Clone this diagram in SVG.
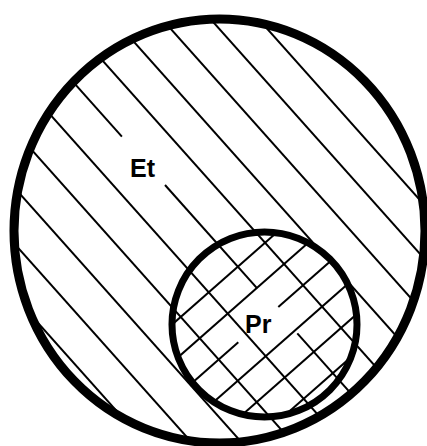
<svg xmlns="http://www.w3.org/2000/svg" width="427" height="446" viewBox="0 0 427 446">
<style>
.h{stroke:#000;stroke-width:2;fill:none}
.c{fill:none;stroke:#000}
.t{font-family:"Liberation Sans",Arial,sans-serif;font-weight:bold;font-size:25px;fill:#000}
</style>
<defs>
<clipPath id="co"><ellipse cx="219.5" cy="231" rx="205.5" ry="212"/></clipPath>
<clipPath id="ci"><circle cx="264.5" cy="324.5" r="92.5"/></clipPath>
</defs>
<rect width="427" height="446" fill="#fff"/>
<g id="hatch-et" clip-path="url(#co)">
<line class="h" x1="-258.9" y1="-10" x2="160.3" y2="460"/>
<line class="h" x1="-211.9" y1="-10" x2="207.3" y2="460"/>
<line class="h" x1="-161.9" y1="-10" x2="257.3" y2="460"/>
<line class="h" x1="-110.9" y1="-10" x2="308.3" y2="460"/>
<line class="h" x1="-60.9" y1="-10" x2="358.3" y2="460"/>
<line class="h" x1="-8.9" y1="-10" x2="121.9" y2="136.7"/>
<line class="h" x1="165" y1="185" x2="257.2" y2="288.3"/>
<line class="h" x1="297.3" y1="333.3" x2="410.3" y2="460"/>
<line class="h" x1="39.6" y1="-10" x2="458.8" y2="460"/>
<line class="h" x1="87.7" y1="-10" x2="506.9" y2="460"/>
<line class="h" x1="136.1" y1="-10" x2="555.3" y2="460"/>
<line class="h" x1="184.6" y1="-10" x2="603.8" y2="460"/>
<line class="h" x1="232.6" y1="-10" x2="651.8" y2="460"/>
</g>
<g id="hatch-pr" clip-path="url(#ci)">
<line class="h" x1="160" y1="335.2" x2="370" y2="150.4"/>
<line class="h" x1="160" y1="373.2" x2="370" y2="188.4"/>
<line class="h" x1="160" y1="411.2" x2="238.3" y2="342.3"/>
<line class="h" x1="278.3" y1="307.1" x2="370" y2="226.4"/>
<line class="h" x1="160" y1="449.2" x2="370" y2="264.4"/>
<line class="h" x1="160" y1="487.2" x2="370" y2="302.4"/>
<line class="h" x1="160" y1="525.2" x2="370" y2="340.4"/>
</g>
<g id="et">
<ellipse class="c" cx="219.5" cy="231" rx="205.5" ry="212" stroke-width="9"/>
<text class="t" x="130" y="176.5">Et</text>
</g>
<g id="pr">
<circle class="c" cx="264.5" cy="324.5" r="92.5" stroke-width="7"/>
<text class="t" x="245" y="333">Pr</text>
</g>
<g id="connectors"/>
</svg>
